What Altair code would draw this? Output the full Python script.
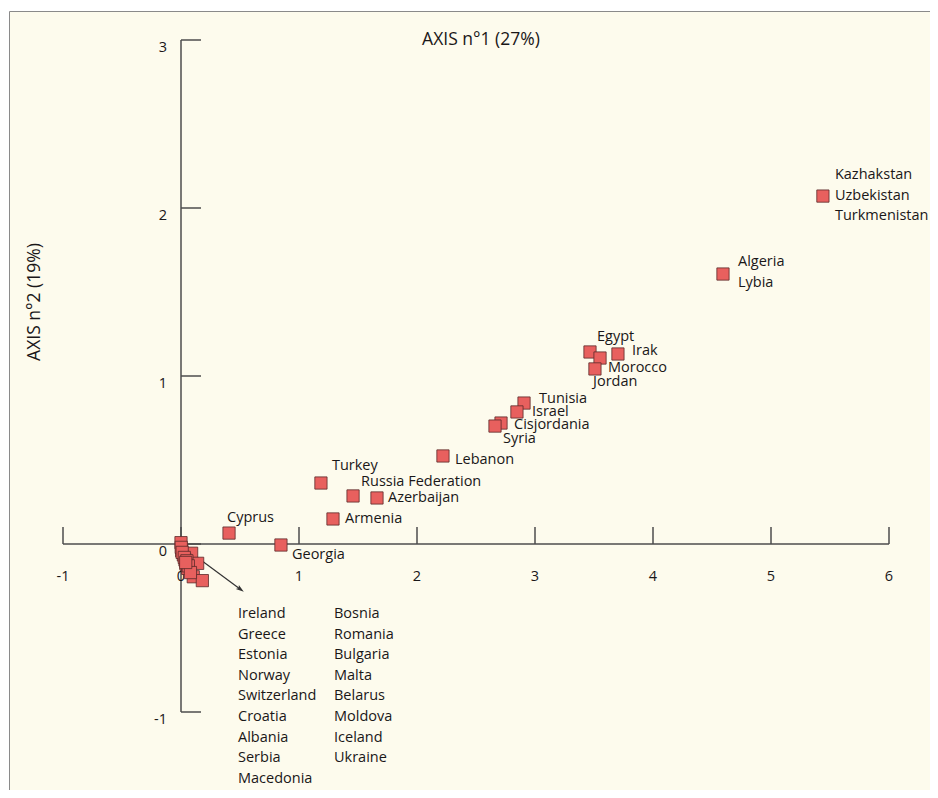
import altair as alt
import pandas as pd

# ---------------- data ----------------
# labelled points (axis 1, axis 2)
point_x = [5.44, 4.593, 3.466, 3.551, 3.703, 3.508, 2.907, 2.847, 2.712, 2.661,
           2.220, 1.186, 1.458, 1.661, 1.288, 0.407, 0.847]
point_y = [2.071, 1.607, 1.143, 1.107, 1.131, 1.042, 0.839, 0.786, 0.720, 0.702,
           0.524, 0.363, 0.286, 0.274, 0.149, 0.065, -0.006]

# cluster near the origin (European countries listed in the annotation)
cluster_x = [0.000, 0.006, 0.020, 0.090, 0.034, 0.141, 0.042, 0.057, 0.104, 0.181,
             0.002, 0.010, 0.028, 0.050, 0.062, 0.080, 0.040]
cluster_y = [0.008, -0.040, -0.065, -0.055, -0.095, -0.115, -0.119, -0.145, -0.195, -0.218,
             -0.020, -0.050, -0.080, -0.100, -0.130, -0.170, -0.110]

# point labels: text, index of point
label_text = ["Kazhakstan", "Uzbekistan", "Turkmenistan", "Algeria", "Lybia",
              "Egypt", "Irak", "Morocco", "Jordan", "Tunisia", "Israel",
              "Cisjordania", "Syria", "Lebanon", "Turkey", "Russia Federation",
              "Azerbaijan", "Armenia", "Cyprus", "Georgia"]
label_point = [0, 0, 0, 1, 1, 2, 4, 5, 3, 6, 7, 8, 9, 10, 11, 12, 13, 14, 15, 16]

list_col1 = ["Ireland", "Greece", "Estonia", "Norway", "Switzerland", "Croatia",
             "Albania", "Serbia", "Macedonia"]
list_col2 = ["Bosnia", "Romania", "Bulgaria", "Malta", "Belarus", "Moldova",
             "Iceland", "Ukraine"]

x_ticks = [-1, 0, 1, 2, 3, 4, 5, 6]
y_ticks = [-1, 0, 1, 2, 3]

x_title = "AXIS n°1 (27%)"
y_title = "AXIS n°2 (19%)"

# ---------------- layout (pixels) ----------------
W, H = 922, 782
PX_X = 118.0   # pixels per unit on axis 1
PX_Y = 168.0   # pixels per unit on axis 2
x_dom = [-1 - 55 / PX_X, 6 + (W - 881) / PX_X]
y_dom = [-(H - 536) / PX_Y, 536 / PX_Y]

# label offsets in pixels (dx right, dy down) from their point
label_dx = [12, 12, 12, 15, 15, 7, 14, 13, -7, 15, 15, 13, 8, 12, 11, 8, 11, 12, -2, 11]
label_dy = [-21, 0, 20, -12, 9, -15, -3, -1, 24, -4, 0, 2, 13, 4, -17, -14, 0, 0, -15, 10]

FONT = "Open Sans"
TXT = "#1a1718"
AX = "#4d4d4d"
FILL = "#e8605e"
EDGE = "#5a2a2a"

xs = alt.Scale(domain=x_dom, nice=False, zero=False)
ys = alt.Scale(domain=y_dom, nice=False, zero=False)


def X(f):
    return alt.X(f, type="quantitative", scale=xs, axis=None)


def Y(f):
    return alt.Y(f, type="quantitative", scale=ys, axis=None)


pts = pd.DataFrame({"x": point_x + cluster_x, "y": point_y + cluster_y})

labels = pd.DataFrame({
    "text": label_text,
    "x": [point_x[i] + dx / PX_X for i, dx in zip(label_point, label_dx)],
    "y": [point_y[i] - dy / PX_Y for i, dy in zip(label_point, label_dy)],
})

row_step = 20.6 / PX_Y
y0 = -70 / PX_Y
lst = pd.DataFrame({
    "text": list_col1 + list_col2,
    "x": [57 / PX_X] * len(list_col1) + [153 / PX_X] * len(list_col2),
    "y": [y0 - i * row_step for i in range(len(list_col1))]
         + [y0 - i * row_step for i in range(len(list_col2))],
})

xt = pd.DataFrame({"v": x_ticks, "z": [0] * len(x_ticks),
                   "top": [17 / PX_Y] * len(x_ticks),
                   "ly": [-33 / PX_Y] * len(x_ticks),
                   "t": [str(v) for v in x_ticks]})
yt = pd.DataFrame({"v": y_ticks, "z": [0] * len(y_ticks),
                   "right": [20 / PX_X] * len(y_ticks),
                   "lx": [-14 / PX_X] * len(y_ticks),
                   "ly": [v - 8 / PX_Y for v in y_ticks],
                   "t": [str(v) for v in y_ticks]})

frame = alt.Chart(pd.DataFrame({"a": [0]})).mark_rect(
    fill="#fdfbed", stroke="#8a8a8a", strokeWidth=1
).encode(x=alt.value(1.5), x2=alt.value(W + 10), y=alt.value(3.5), y2=alt.value(H + 10))

x_axis = alt.Chart(pd.DataFrame({"a": [x_ticks[0]], "b": [x_ticks[-1]], "z": [0]})).mark_rule(
    color=AX, strokeWidth=1.5).encode(x=X("a"), x2="b", y=Y("z"))
y_axis = alt.Chart(pd.DataFrame({"a": [y_ticks[0]], "b": [y_ticks[-1]], "z": [0]})).mark_rule(
    color=AX, strokeWidth=1.5).encode(y=Y("a"), y2="b", x=X("z"))

x_tick_marks = alt.Chart(xt).mark_rule(color=AX, strokeWidth=1.5).encode(
    x=X("v"), y=Y("z"), y2="top")
y_tick_marks = alt.Chart(yt).mark_rule(color=AX, strokeWidth=1.5).encode(
    y=Y("v"), x=X("z"), x2="right")

x_tick_labels = alt.Chart(xt).mark_text(
    font=FONT, fontSize=14.5, color=TXT, align="center", baseline="middle"
).encode(x=X("v"), y=Y("ly"), text="t:N")
y_tick_labels = alt.Chart(yt).mark_text(
    font=FONT, fontSize=14.5, color=TXT, align="right", baseline="middle"
).encode(x=X("lx"), y=Y("ly"), text="t:N")

arrow_df = pd.DataFrame({"x": [9 / PX_X], "y": [-8 / PX_Y],
                         "x2": [59 / PX_X], "y2": [-45 / PX_Y]})
arrow_line = alt.Chart(arrow_df).mark_rule(color="#333333", strokeWidth=1.2).encode(
    x=X("x"), y=Y("y"), x2="x2", y2="y2")
arrow_head = alt.Chart(arrow_df).mark_point(
    shape="M0,-1L0.55,0.7L0,0.35L-0.55,0.7Z", filled=True, color="#333333",
    size=90, angle=126.5, opacity=1
).encode(x=X("x2"), y=Y("y2"))

points = alt.Chart(pts).mark_point(
    shape="square", filled=True, fill=FILL, stroke=EDGE, strokeWidth=0.8,
    size=150, opacity=1
).encode(x=X("x"), y=Y("y"))

point_labels = alt.Chart(labels).mark_text(
    font=FONT, fontSize=14.5, color=TXT, align="left", baseline="middle"
).encode(x=X("x"), y=Y("y"), text="text:N")

list_labels = alt.Chart(lst).mark_text(
    font=FONT, fontSize=14.5, color=TXT, align="left", baseline="middle"
).encode(x=X("x"), y=Y("y"), text="text:N")

titles = pd.DataFrame({"t": [x_title], "x": [300 / PX_X], "y": [504 / PX_Y]})
x_title_mark = alt.Chart(titles).mark_text(
    font=FONT, fontSize=17.5, color=TXT, align="center", baseline="middle"
).encode(x=X("x"), y=Y("y"), text="t:N")
ytitles = pd.DataFrame({"t": [y_title], "x": [-146 / PX_X], "y": [242 / PX_Y]})
y_title_mark = alt.Chart(ytitles).mark_text(
    font=FONT, fontSize=17.5, color=TXT, align="center", baseline="middle", angle=270
).encode(x=X("x"), y=Y("y"), text="t:N")

chart = alt.layer(
    frame, x_axis, y_axis, x_tick_marks, y_tick_marks, x_tick_labels, y_tick_labels,
    arrow_line, arrow_head, points, point_labels, list_labels, x_title_mark, y_title_mark
).properties(
    width=W, height=H, autosize=alt.AutoSizeParams(type="none"), padding=0,
    background="white"
).configure_view(stroke=None)

chart.save("out.html", embed_options={"renderer": "svg", "actions": False})
